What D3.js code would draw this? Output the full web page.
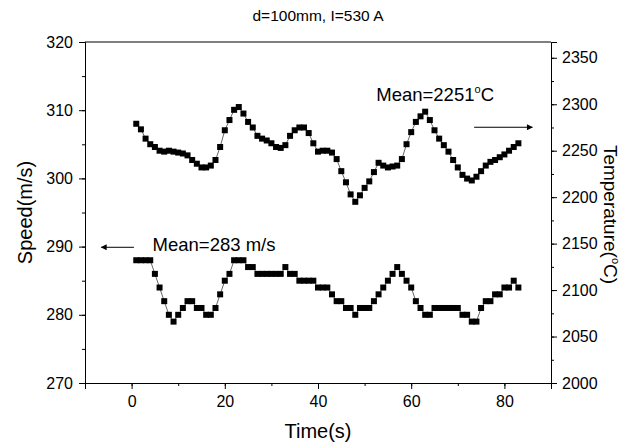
<!DOCTYPE html>
<html>
<head>
<meta charset="utf-8">
<script src="https://cdn.jsdelivr.net/npm/d3@7"></script>
<style>
  body { margin: 0; background: white; }
  text { font-family: "Liberation Sans", Arial, sans-serif; fill: black; }
</style>
</head>
<body>
<div class="svg-wrap"></div>
<script>
// seconds 1..83
let times = d3.range(1, 84);

let speed = [288, 288, 288, 288, 286, 284, 282, 280, 279, 280,
  281, 282, 282, 281, 281, 280, 280, 281, 283, 285,
  286, 288, 288, 288, 287, 287, 286, 286, 286, 286,
  286, 286, 287, 286, 286, 285, 285, 285, 285, 284,
  284, 284, 283, 282, 282, 281, 281, 280, 281, 281,
  281, 282, 283, 284, 285, 286, 287, 286, 285, 284,
  282, 281, 280, 280, 281, 281, 281, 281, 281, 281,
  280, 280, 279, 279, 281, 282, 282, 283, 283, 284,
  284, 285, 284];

let temperature = [2279, 2273, 2263, 2257, 2254, 2250, 2249, 2250, 2249, 2248,
  2247, 2245, 2240, 2236, 2232, 2232, 2234, 2240, 2254, 2272,
  2283, 2294, 2297, 2290, 2281, 2275, 2266, 2263, 2261, 2258,
  2254, 2253, 2256, 2266, 2272, 2275, 2275, 2269, 2258, 2249,
  2250, 2250, 2248, 2241, 2228, 2216, 2203, 2195, 2202, 2210,
  2217, 2227, 2237, 2234, 2232, 2233, 2234, 2241, 2257, 2270,
  2281, 2287, 2292, 2283, 2272, 2263, 2256, 2249, 2240, 2232,
  2224, 2220, 2218, 2222, 2228, 2234, 2238, 2240, 2243, 2246,
  2250, 2254, 2258];

let xTicks = [0, 20, 40, 60, 80];
let speedTicks = [270, 280, 290, 300, 310, 320];
let tempTicks = [2000, 2050, 2100, 2150, 2200, 2250, 2300, 2350];

var margin = { top: 42, right: 82, bottom: 61, left: 85 },
  width = 633 - margin.left - margin.right,
  height = 444 - margin.top - margin.bottom;

let svg = d3.select(".svg-wrap")
  .append("svg")
  .attr("width", 633)
  .attr("height", 444);

svg.append("defs").append("marker")
  .attr("id", "arrow")
  .attr("viewBox", "0 0 10 10")
  .attr("refX", 9)
  .attr("refY", 5)
  .attr("markerWidth", 9)
  .attr("markerHeight", 6)
  .attr("markerUnits", "userSpaceOnUse")
  .attr("orient", "auto")
  .append("path")
  .attr("d", "M0,0 L10,5 L0,10 z")
  .attr("fill", "black");

let g = svg.append("g")
  .attr("transform", "translate(" + margin.left + "," + margin.top + ")");

let x = d3.scaleLinear().domain([-10, 90]).range([0, width]);
let yL = d3.scaleLinear().domain([270, 320]).range([height, 0]);
let yR = d3.scaleLinear().domain([2000, 2367]).range([height, 0]);

// minor ticks
g.append("g")
  .attr("transform", "translate(0," + height + ")")
  .call(d3.axisBottom(x).tickValues(d3.range(-10, 91, 10)).tickSize(3).tickFormat(""));
g.append("g")
  .call(d3.axisLeft(yL).tickValues(d3.range(270, 321, 5)).tickSize(3).tickFormat(""));
g.append("g")
  .attr("transform", "translate(" + width + ",0)")
  .call(d3.axisRight(yR).tickValues(d3.range(2000, 2367, 25)).tickSize(3).tickFormat(""));

// major ticks
g.append("g")
  .attr("transform", "translate(0," + height + ")")
  .call(d3.axisBottom(x).tickValues(xTicks).tickSize(6).tickPadding(7));
g.append("g")
  .call(d3.axisLeft(yL).tickValues(speedTicks).tickSize(6).tickPadding(6));
g.append("g")
  .attr("transform", "translate(" + width + ",0)")
  .call(d3.axisRight(yR).tickValues(tempTicks).tickSize(6).tickPadding(5).tickFormat(d3.format("d")));

g.selectAll(".domain").attr("stroke", "black");
g.selectAll(".tick line").attr("stroke", "black");
g.selectAll(".tick text").style("font-size", "16px");

// top border
g.append("line")
  .attr("x1", 0).attr("x2", width)
  .attr("y1", 0).attr("y2", 0)
  .attr("stroke", "black");

// lines
let speedLine = d3.line().x((d, i) => x(times[i])).y(d => yL(d));
let tempLine = d3.line().x((d, i) => x(times[i])).y(d => yR(d));

g.append("path")
  .datum(speed)
  .attr("d", speedLine)
  .attr("fill", "none")
  .attr("stroke", "black")
  .attr("stroke-width", 0.6);

g.append("path")
  .datum(temperature)
  .attr("d", tempLine)
  .attr("fill", "none")
  .attr("stroke", "black")
  .attr("stroke-width", 0.6);

let ms = 6;
g.selectAll(".sp")
  .data(speed)
  .enter()
  .append("rect")
  .attr("class", "sp")
  .attr("x", (d, i) => x(times[i]) - ms / 2)
  .attr("y", d => yL(d) - ms / 2)
  .attr("width", ms)
  .attr("height", ms)
  .attr("fill", "black");

g.selectAll(".tp")
  .data(temperature)
  .enter()
  .append("rect")
  .attr("class", "tp")
  .attr("x", (d, i) => x(times[i]) - ms / 2)
  .attr("y", d => yR(d) - ms / 2)
  .attr("width", ms)
  .attr("height", ms)
  .attr("fill", "black");

// annotations
let t1 = g.append("text")
  .attr("x", x(52.5))
  .attr("y", yL(311.3))
  .style("font-size", "18.5px");
t1.append("tspan").text("Mean=2251");
t1.append("tspan").attr("dy", -8).style("font-size", "11px").text("o");
t1.append("tspan").attr("dy", 8).text("C");

g.append("line")
  .attr("x1", x(73.5)).attr("x2", x(86))
  .attr("y1", yL(307.5)).attr("y2", yL(307.5))
  .attr("stroke", "black")
  .attr("stroke-width", 1)
  .attr("marker-end", "url(#arrow)");

g.append("text")
  .attr("x", x(4.5))
  .attr("y", yL(289.4))
  .style("font-size", "18.5px")
  .text("Mean=283 m/s");

g.append("line")
  .attr("x1", x(0.5)).attr("x2", x(-6.5))
  .attr("y1", yL(289.9)).attr("y2", yL(289.9))
  .attr("stroke", "black")
  .attr("stroke-width", 1)
  .attr("marker-end", "url(#arrow)");

// titles
svg.append("text")
  .attr("x", margin.left + width / 2)
  .attr("y", 21)
  .attr("text-anchor", "middle")
  .style("font-size", "15.5px")
  .text("d=100mm, I=530 A");

svg.append("text")
  .attr("x", margin.left + width / 2)
  .attr("y", 438)
  .attr("text-anchor", "middle")
  .style("font-size", "20px")
  .text("Time(s)");

svg.append("text")
  .attr("transform", "translate(32," + (margin.top + height / 2) + ") rotate(-90)")
  .attr("text-anchor", "middle")
  .style("font-size", "20px")
  .text("Speed(m/s)");

let tt = svg.append("text")
  .attr("transform", "translate(604," + (margin.top + height / 2 + 2) + ") rotate(90)")
  .attr("text-anchor", "middle")
  .style("font-size", "19px");
tt.append("tspan").text("Temperature(");
tt.append("tspan").attr("dy", -8).style("font-size", "11px").text("o");
tt.append("tspan").attr("dy", 8).text("C)");
</script>
</body>
</html>
